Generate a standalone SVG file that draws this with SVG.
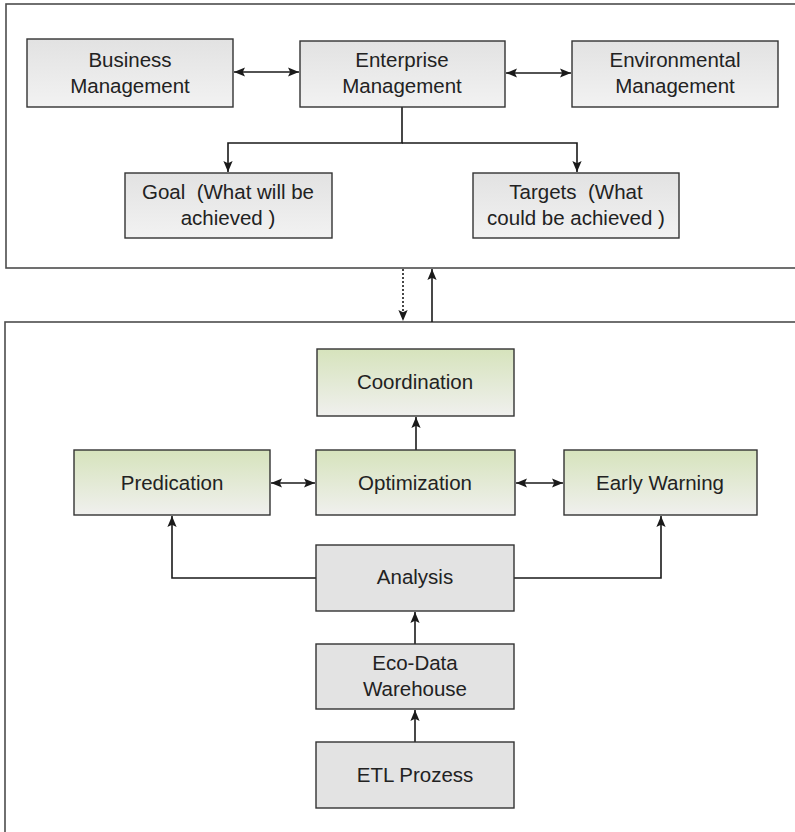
<svg xmlns="http://www.w3.org/2000/svg" width="795" height="832" viewBox="0 0 795 832">
  <style>
    text { font-family: "Liberation Sans", Arial, sans-serif; font-size: 20.5px; fill: #222; text-anchor: middle; }
    .frame { fill: #fff; stroke: #4d4d4d; stroke-width: 1.6; }
    .box { stroke: #333; stroke-width: 1.4; }
    .grey { fill: url(#greyGrad); }
    .green { fill: url(#greenGrad); }
    .flat { fill: #e3e3e3; }
    .conn { fill: none; stroke: #1a1a1a; stroke-width: 1.6; }
    .dot { stroke-dasharray: 2 2; }
  </style>
  <defs>
    <linearGradient id="greyGrad" x1="0" y1="0" x2="0" y2="1">
      <stop offset="0" stop-color="#e2e2e2"/>
      <stop offset="1" stop-color="#f2f2f2"/>
    </linearGradient>
    <linearGradient id="greenGrad" x1="0" y1="0" x2="0" y2="1">
      <stop offset="0" stop-color="#d6e3bc"/>
      <stop offset="1" stop-color="#f0f0ee"/>
    </linearGradient>
    <marker id="ah" viewBox="0 0 10 10" refX="10" refY="5" markerWidth="11" markerHeight="11" markerUnits="userSpaceOnUse" orient="auto-start-reverse">
      <path d="M0,0.8 L10,5 L0,9.2 L2,5 Z" fill="#1a1a1a"/>
    </marker>
  </defs>

  <!-- frames -->
  <rect class="frame" x="6" y="4" width="800" height="264"/>
  <rect class="frame" x="5" y="322" width="800" height="520"/>

  <!-- connectors -->
  <g id="connectors">
    <line class="conn" x1="234" y1="72" x2="299" y2="72" marker-start="url(#ah)" marker-end="url(#ah)"/>
    <line class="conn" x1="506" y1="73" x2="571" y2="73" marker-start="url(#ah)" marker-end="url(#ah)"/>
    <polyline class="conn" points="402,107 402,143 228,143 228,172" marker-end="url(#ah)"/>
    <polyline class="conn" points="402,143 577,143 577,172" marker-end="url(#ah)"/>
    <line class="conn dot" x1="403" y1="269" x2="403" y2="321" marker-end="url(#ah)"/>
    <line class="conn" x1="432" y1="322" x2="432" y2="269" marker-end="url(#ah)"/>
    <line class="conn" x1="416" y1="450" x2="416" y2="417" marker-end="url(#ah)"/>
    <line class="conn" x1="271" y1="483" x2="315" y2="483" marker-start="url(#ah)" marker-end="url(#ah)"/>
    <line class="conn" x1="516" y1="483" x2="563" y2="483" marker-start="url(#ah)" marker-end="url(#ah)"/>
    <polyline class="conn" points="316,578 172,578 172,516" marker-end="url(#ah)"/>
    <polyline class="conn" points="514,578 661,578 661,516" marker-end="url(#ah)"/>
    <line class="conn" x1="415" y1="644" x2="415" y2="612" marker-end="url(#ah)"/>
    <line class="conn" x1="415" y1="742" x2="415" y2="710" marker-end="url(#ah)"/>
  </g>

  <!-- upper level -->
  <g id="business">
    <rect class="box grey" x="27" y="39" width="206" height="68"/>
    <text x="130" y="67">Business</text>
    <text x="130" y="93">Management</text>
  </g>
  <g id="enterprise">
    <rect class="box grey" x="300" y="41" width="205" height="66"/>
    <text x="402" y="67">Enterprise</text>
    <text x="402" y="93">Management</text>
  </g>
  <g id="environmental">
    <rect class="box grey" x="572" y="41" width="206" height="66"/>
    <text x="675" y="67">Environmental</text>
    <text x="675" y="93">Management</text>
  </g>
  <g id="goal">
    <rect class="box grey" x="125" y="173" width="207" height="65"/>
    <text x="228" y="199" xml:space="preserve">Goal  (What will be</text>
    <text x="228" y="225">achieved )</text>
  </g>
  <g id="targets">
    <rect class="box grey" x="473" y="173" width="206" height="65"/>
    <text x="576" y="199" xml:space="preserve">Targets  (What</text>
    <text x="576" y="225">could be achieved )</text>
  </g>

  <!-- lower level -->
  <g id="coordination">
    <rect class="box green" x="317" y="349" width="197" height="67"/>
    <text x="415" y="389">Coordination</text>
  </g>
  <g id="predication">
    <rect class="box green" x="74" y="450" width="196" height="65"/>
    <text x="172" y="490">Predication</text>
  </g>
  <g id="optimization">
    <rect class="box green" x="316" y="450" width="199" height="65"/>
    <text x="415" y="490">Optimization</text>
  </g>
  <g id="early-warning">
    <rect class="box green" x="564" y="450" width="193" height="65"/>
    <text x="660" y="490">Early Warning</text>
  </g>
  <g id="analysis">
    <rect class="box flat" x="316" y="545" width="198" height="66"/>
    <text x="415" y="584">Analysis</text>
  </g>
  <g id="warehouse">
    <rect class="box flat" x="316" y="644" width="198" height="65"/>
    <text x="415" y="670">Eco-Data</text>
    <text x="415" y="696">Warehouse</text>
  </g>
  <g id="etl">
    <rect class="box flat" x="316" y="742" width="198" height="66"/>
    <text x="415" y="782">ETL Prozess</text>
  </g>
</svg>
